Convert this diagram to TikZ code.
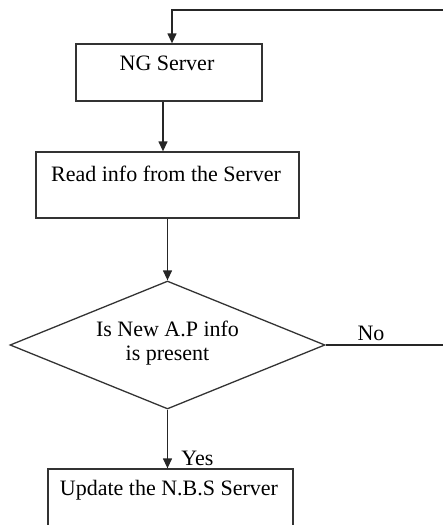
\documentclass[tikz,border=0pt]{standalone}
\usepackage{fontspec}
\setmainfont{Liberation Serif}
\usetikzlibrary{arrows.meta,shapes.geometric}
\begin{document}
\begin{tikzpicture}[x=1pt,y=-1pt,
  box/.style={draw=black!80,line width=1.3pt,rectangle,inner sep=0pt},
  txt/.style={anchor=base,inner sep=0pt,font=\fontsize{22}{24}\selectfont},
  conn/.style={draw=black!85,line width=1.3pt},
  arr/.style={conn,-{Triangle[width=9pt,length=10pt]}}]
\useasboundingbox (0,0) rectangle (443,525);
\clip (0,0) rectangle (443,525);
% boxes
\node[box,minimum width=186pt,minimum height=57pt] (ng) at (169,72.5) {};
\node[box,minimum width=263pt,minimum height=66pt] (read) at (167.5,185) {};
\node[draw=black!80,line width=1.3pt,diamond,inner sep=0pt,minimum width=315pt,minimum height=128pt] (dec) at (167.5,345) {};
\node[box,minimum width=245pt,minimum height=80pt] (upd) at (170.5,509) {};
% texts
\node[txt] (tng) at (167,70) {NG Server};
\node[txt] (tread) at (166,181.5) {Read info from the Server};
\node[txt] (tdec1) at (167.5,336.5) {Is New A.P info};
\node[txt] (tdec2) at (167.5,360.5) {is present};
\node[txt] (tno) at (371,340.5) {No};
\node[txt] (tyes) at (197.5,465) {Yes};
\node[txt] (tupd) at (169,495) {Update the N.B.S Server};
% connector coordinates
\coordinate (noend) at (460,345);
\coordinate (topright) at (460,10);
\coordinate (topleft) at (172,10);
% connectors
\draw[conn] (dec.east) -- (noend);
\draw[arr] (topright) -- (topleft) -- (ng.north -| topleft);
\draw[arr] (ng.south -| 163,0) -- (read.north -| 163,0);
\draw[arr] (read.south -| 167.5,0) -- (dec.north);
\draw[arr] (dec.south) -- (upd.north -| 167.5,0);
\end{tikzpicture}
\end{document}
